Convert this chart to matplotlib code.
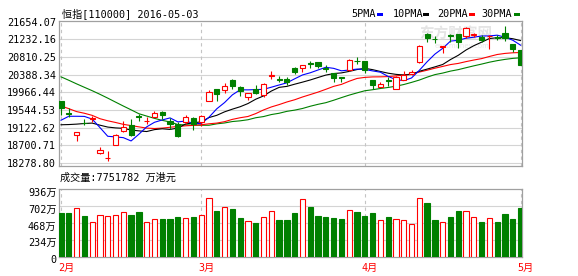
import matplotlib
matplotlib.use('Agg')
import matplotlib.pyplot as plt
from matplotlib.patches import Rectangle
import matplotlib.transforms as mtransforms
import numpy as np

# ---------------- data ----------------
title_text = '恒指[110000] 2016-05-03'
volume_text = '成交量:7751782 万港元'
month_labels = ['2月', '3月', '4月', '5月']
month_idx = [0, 18, 39, 59]

price_levels = [21654.07, 21232.16, 20810.25, 20388.34, 19966.44,
                19544.53, 19122.62, 18700.71, 18278.80]
vol_levels = [0, 234, 468, 702, 936]
vol_labels = ['0', '234万', '468万', '702万', '936万']

opens = [19753, 19470, 18955, 19238, 19338, 18523, 18387, 18715, 19041, 19195,
         19401, 19274, 19377, 19497, 19281, 19202, 19257, 19362, 19250, 19770,
         20034, 20029, 20249, 20096, 19861, 20034, 19897, 20345, 20285, 20280,
         20537, 20551, 20669, 20688, 20556, 20417, 20328, 20503, 20724, 20705,
         20256, 20089, 20249, 20034, 20268, 20400, 20681, 21371, 21251, 21052,
         21335, 21352, 21318, 21340, 21299, 21311, 21280, 21383, 21119, 20976]
highs = [19760, 19597, 19022, 19338, 19401, 18662, 18554, 18962, 19274, 19338,
         19458, 19377, 19513, 19520, 19358, 19257, 19418, 19370, 19418, 20017,
         20041, 20177, 20292, 20125, 19957, 20129, 20177, 20472, 20352, 20321,
         20575, 20616, 20717, 20688, 20616, 20424, 20328, 20753, 20801, 20712,
         20256, 20209, 20328, 20352, 20484, 20496, 21095, 21395, 21318, 21071,
         21364, 21359, 21520, 21376, 21335, 21347, 21335, 21551, 21119, 20976]
lows = [19434, 19377, 18801, 19195, 19250, 18499, 18315, 18710, 19017, 18931,
        19281, 19202, 19377, 19322, 19099, 18902, 19202, 19058, 19154, 19753,
        19760, 19957, 20057, 19885, 19784, 19933, 19856, 20280, 20216, 20137,
        20400, 20455, 20556, 20537, 20455, 20216, 20209, 20484, 20635, 20424,
        20057, 20081, 20125, 20034, 20256, 20376, 20664, 21175, 21155, 20916,
        21175, 21016, 21275, 21287, 21175, 20992, 21227, 21203, 20935, 20616]
closes = [19592, 19446, 19017, 19221, 19353, 18578, 18406, 18938, 19137, 18955,
          19386, 19286, 19482, 19418, 19197, 18914, 19377, 19202, 19394, 19964,
          19921, 20125, 20120, 20000, 19952, 19957, 20153, 20376, 20268, 20209,
          20441, 20609, 20640, 20599, 20532, 20316, 20312, 20736, 20707, 20496,
          20137, 20160, 20232, 20321, 20376, 20455, 21071, 21256, 21239, 21064,
          21318, 21175, 21503, 21354, 21215, 21323, 21263, 21263, 20992, 20623]

ma5 = [19298, 19393, 19393, 19390, 19326, 19123, 18915, 18899, 18882, 18803,
       18964, 19140, 19249, 19305, 19354, 19259, 19278, 19222, 19217, 19370,
       19572, 19721, 19905, 20026, 20024, 20031, 20036, 20088, 20141, 20193,
       20289, 20381, 20433, 20500, 20564, 20539, 20480, 20499, 20521, 20513,
       20478, 20447, 20346, 20269, 20245, 20309, 20491, 20696, 20879, 21017,
       21190, 21210, 21260, 21283, 21313, 21314, 21332, 21284, 21211, 21093]
ma10 = [19190, 19195, 19205, 19220, 19230, 19180, 19135, 19115, 19105, 19064,
        19044, 19028, 19074, 19094, 19078, 19112, 19209, 19235, 19261, 19362,
        19416, 19499, 19563, 19621, 19697, 19801, 19879, 19996, 20084, 20108,
        20160, 20209, 20261, 20320, 20378, 20414, 20430, 20466, 20510, 20539,
        20508, 20464, 20423, 20395, 20379, 20393, 20469, 20521, 20574, 20631,
        20749, 20851, 20978, 21081, 21165, 21252, 21271, 21272, 21247, 21203]
ma20 = [19640, 19575, 19505, 19465, 19415, 19335, 19285, 19245, 19200, 19170,
        19140, 19110, 19100, 19110, 19130, 19150, 19165, 19175, 19190, 19213,
        19230, 19264, 19319, 19358, 19388, 19457, 19544, 19616, 19672, 19735,
        19788, 19854, 19912, 19971, 20038, 20108, 20155, 20231, 20297, 20323,
        20334, 20336, 20342, 20358, 20379, 20404, 20450, 20494, 20542, 20585,
        20629, 20657, 20700, 20738, 20772, 20823, 20870, 20896, 20911, 20917]
ma30 = [20336, 20254, 20168, 20086, 20005, 19918, 19827, 19732, 19638, 19547,
        19454, 19398, 19343, 19295, 19257, 19195, 19187, 19183, 19178, 19178,
        19212, 19233, 19267, 19284, 19310, 19358, 19386, 19434, 19465, 19511,
        19540, 19579, 19633, 19679, 19718, 19776, 19839, 19899, 19952, 20003,
        20028, 20057, 20082, 20112, 20152, 20203, 20259, 20328, 20389, 20426,
        20473, 20508, 20554, 20599, 20641, 20686, 20723, 20753, 20777, 20791]

volumes = [613, 613, 679, 571, 487, 580, 566, 580, 622, 585,
           627, 482, 529, 519, 529, 557, 543, 557, 580, 810,
           632, 693, 660, 543, 501, 473, 552, 641, 505, 515,
           613, 805, 697, 571, 557, 543, 529, 655, 627, 571,
           613, 515, 557, 529, 515, 459, 819, 739, 515, 482,
           557, 641, 641, 552, 487, 538, 487, 599, 529, 683]

ma_names = ['5PMA', '10PMA', '20PMA', '30PMA']

# ---------------- style ----------------
W, H = 578, 276
RED = '#ff0000'
GRN = '#008000'
BLUE = '#0000ff'
BLK = '#000000'
SPINE = '#a0a0a0'
GRID = '#d4d4d4'
VLINE = '#c4c4c4'
FAM = ['DejaVu Sans Mono', 'Noto Sans CJK SC']
FS = 7.3

fig = plt.figure(figsize=(W / 100, H / 100), dpi=100)
fig.patch.set_facecolor('white')


def fx(px):
    return px / W


def fy(py):
    return 1 - py / H


L, R = 58.5, 522.3
ax = fig.add_axes([fx(L), fy(166), fx(R) - fx(L), fy(21) - fy(166)])
axv = fig.add_axes([fx(L), fy(256.7), fx(R) - fx(L), fy(189.3) - fy(256.7)])

n = len(closes)
xs = np.arange(n)

for a in (ax, axv):
    a.set_xlim(-0.32, 59.22)
    a.set_facecolor('white')
    for s in a.spines.values():
        s.set_color(SPINE)
        s.set_linewidth(0.9)
    a.tick_params(length=0)
    a.set_xticks([])
    for mi in month_idx:
        a.axvline(mi, color=VLINE, lw=0.8, ls=(0, (3, 3)), zorder=1)

# ---- price panel ----
ax.set_ylim(18204, 21671)
ax.set_yticks(price_levels)
ax.set_yticklabels(['%.2f' % v for v in price_levels], family=FAM, fontsize=FS)
ax.tick_params(axis='y', pad=2)
for lv in price_levels[1:]:
    ax.axhline(lv, color=GRID, lw=0.8, zorder=0)

bw = 0.66
for i in range(n):
    o, h, l, c = opens[i], highs[i], lows[i], closes[i]
    up = c >= o
    col = RED if up else GRN
    ax.vlines(xs[i], l, h, color=col, lw=0.8, zorder=3)
    lo, hi = min(o, c), max(o, c)
    rect = Rectangle((xs[i] - bw / 2, lo), bw, hi - lo,
                     facecolor='white' if up else GRN, edgecolor=col,
                     lw=0.8, zorder=4)
    ax.add_patch(rect)

ax.plot(xs, ma30, color=GRN, lw=0.8, zorder=2)
ax.plot(xs, ma20, color=RED, lw=0.8, zorder=2)
ax.plot(xs, ma10, color=BLK, lw=0.8, zorder=2)
ax.plot(xs, ma5, color=BLUE, lw=0.8, zorder=2)

# faint watermark
ax.text(0.935, 0.915, '东方财富网', transform=ax.transAxes, family=['Noto Sans CJK SC'],
        fontsize=10.5, color='#e4e4e4', ha='right', va='center', zorder=0.5,
        weight='bold')
ax.text(0.93, 0.83, 'eastmoney.com', transform=ax.transAxes, family=['DejaVu Sans'],
        fontsize=5, color='#e8e8e8', ha='right', va='center', zorder=0.5)

# ---- volume panel ----
axv.set_ylim(0, 936)
axv.set_yticks([])
for lv in vol_levels[1:-1]:
    axv.axhline(lv, color=GRID, lw=0.8, zorder=0)
vol_off = mtransforms.offset_copy(axv.get_yaxis_transform(), fig=fig, x=-2, y=-3.5, units='dots')
for lv, lab in zip(vol_levels, vol_labels):
    axv.text(0, lv, lab, transform=vol_off, ha='right', va='center',
             family=FAM, fontsize=FS)

for i in range(n):
    up = closes[i] >= opens[i]
    col = RED if up else GRN
    axv.bar(xs[i], volumes[i], width=0.68, color='white' if up else GRN,
            edgecolor=col, lw=0.8, zorder=3)

# ---- texts ----
fig.text(fx(62), fy(14), title_text, family=FAM, fontsize=FS, ha='left', va='center')
fig.text(fx(60), fy(178), volume_text, family=FAM, fontsize=FS, ha='left', va='center')

leg_x = [351.7, 392.7, 436.7, 481.7]
leg_r = [377, 423.3, 469, 514]
leg_c = [BLUE, BLK, RED, GRN]
for name, tx, rx, c in zip(ma_names, leg_x, leg_r, leg_c):
    fig.text(fx(tx), fy(14), name, family=FAM, fontsize=FS, ha='left', va='center')
    fig.add_artist(Rectangle((fx(rx), fy(15.7)), fx(6), 3 / H, transform=fig.transFigure,
                             facecolor=c, edgecolor='none'))

mon_tr = mtransforms.blended_transform_factory(axv.transData, fig.transFigure)
mon_tr = mtransforms.offset_copy(mon_tr, fig=fig, x=-3, y=0, units='dots')
for mi, lab in zip(month_idx, month_labels):
    axv.text(mi, fy(267.5), lab, transform=mon_tr, ha='left', va='center',
             family=FAM, fontsize=FS, color=RED, clip_on=False)

fig.savefig('out.png', dpi=100, facecolor='white')
